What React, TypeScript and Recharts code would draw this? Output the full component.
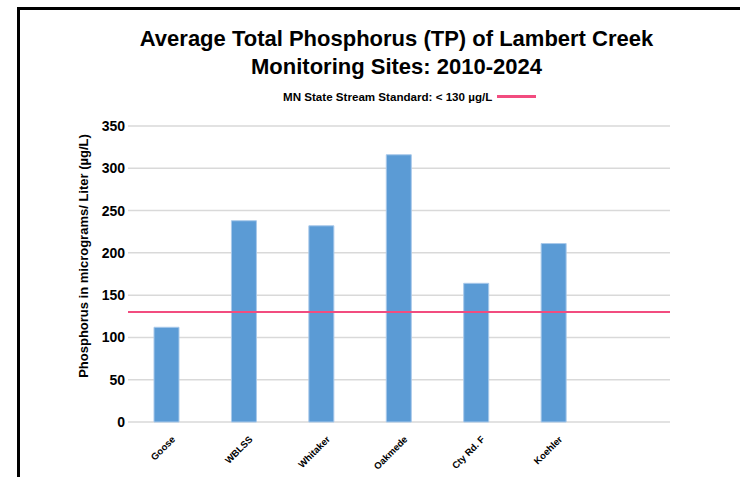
import { BarChart, Bar, XAxis, YAxis, CartesianGrid, ReferenceLine } from 'recharts';

const sites = ['Goose', 'WBLSS', 'Whitaker', 'Oakmede', 'Cty Rd. F', 'Koehler', ''];
const avgTP = [112, 238, 232, 316, 164, 211, null];
const yTicks = [0, 50, 100, 150, 200, 250, 300, 350];
const standard = 130;

const chartData = sites.map((site, i) => ({ site, tp: avgTP[i] }));

const font = '"Liberation Sans", Arial, sans-serif';

function SiteTick(props: any) {
  const { x, y, payload } = props;
  if (!payload.value) return null;
  return (
    <text x={x + 9} y={y + 10} transform={`rotate(-45, ${x + 9}, ${y + 10})`} textAnchor="end"
          fontSize={9.5} fontWeight="bold" fontFamily={font} fill="#000">
      {payload.value}
    </text>
  );
}

// y title sits a bit above the plot's middle in the original
function YTitle() {
  return (
    <text x={88} y={256} transform="rotate(-90, 88, 256)" textAnchor="middle"
          fontSize={13} fontWeight="bold" fontFamily={font} fill="#000">
      Phosphorus in micrograms/ Liter (µg/L)
    </text>
  );
}

export default function App() {
  return (
    <div style={{ position: 'absolute', left: 0, top: 0, width: 740, height: 477, background: '#fff', overflow: 'hidden' }}>
      <div style={{ position: 'absolute', left: 17, top: 7, right: 0, height: 3, background: '#000' }} />
      <div style={{ position: 'absolute', left: 17, top: 7, bottom: 0, width: 3, background: '#000' }} />
      <div style={{ position: 'absolute', left: 0, width: 793, top: 25, textAlign: 'center', fontFamily: font, fontWeight: 'bold',
                    fontSize: 22, lineHeight: '28px', color: '#000' }}>
        Average Total Phosphorus (TP) of Lambert Creek<br />Monitoring Sites: 2010-2024
      </div>
      <div style={{ position: 'absolute', left: 283, top: 90, display: 'flex', alignItems: 'center', fontFamily: font,
                    fontWeight: 'bold', fontSize: 11.6, color: '#000' }}>
        <span>MN State Stream Standard: &lt; 130 µg/L</span>
        <span style={{ display: 'inline-block', width: 39, height: 2.5, background: '#f24c7f', marginLeft: 5 }} />
      </div>
      <BarChart width={740} height={477} data={chartData} margin={{ top: 126, right: 70, bottom: 0, left: 0 }}>
        <CartesianGrid vertical={false} stroke="#d9d9d9" strokeWidth={1.5} />
        <XAxis dataKey="site" axisLine={false} tickLine={false} height={55} tick={<SiteTick />} interval={0} />
        <YAxis domain={[0, 350]} ticks={yTicks} width={128} axisLine={false} tickLine={false} tickSize={0} tickMargin={3}
               tick={{ fontSize: 14, fontWeight: 'bold', fontFamily: font, fill: '#000' }}
               label={<YTitle />} />
        <Bar dataKey="tp" fill="#5b9bd5" stroke="#a9c9ea" strokeWidth={1} barSize={25} isAnimationActive={false} />
        <ReferenceLine y={standard} stroke="#f24c7f" strokeWidth={2} />
      </BarChart>
    </div>
  );
}
